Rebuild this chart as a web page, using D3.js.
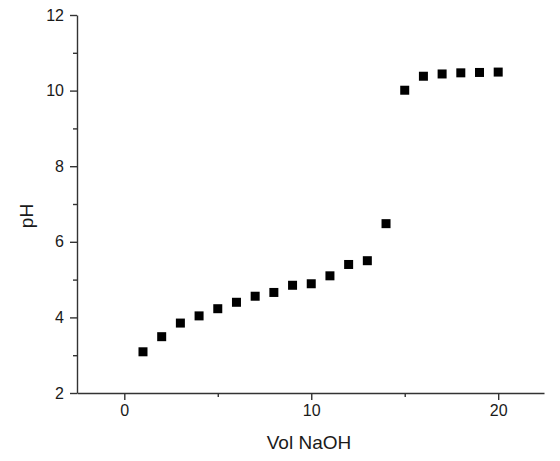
<!DOCTYPE html>
<html lang="en">
  <head>
    <meta charset="utf-8">
    <title>pH titration</title>
    <script src="https://d3js.org/d3.v7.js"></script>
    <style>
      body { margin: 0; background: #fff; overflow: hidden; }
      text { font-family: "Liberation Sans", Arial, sans-serif; fill: #1a1a1a; }
    </style>
  </head>
  <body>
  <script>

  // volume of NaOH added and measured pH
  var volume = [1, 2, 3, 4, 5, 6, 7, 8, 9, 10, 11, 12, 13, 14, 15, 16, 17, 18, 19, 20];
  var pH = [3.09, 3.49, 3.85, 4.04, 4.23, 4.40, 4.56, 4.66, 4.85, 4.89,
            5.10, 5.40, 5.50, 6.48, 10.01, 10.38, 10.44, 10.47, 10.48, 10.49];
  var xTicks = [0, 10, 20];
  var xMinor = [5, 15];
  var yTicks = [2, 4, 6, 8, 10, 12];
  var yMinor = [3, 5, 7, 9, 11];

  var data = volume.map((v, i) => ({vol: v, ph: pH[i]}));

  var w = 560;
  var h = 461;
  var margin = {top: 15, right: 16, bottom: 68, left: 77};
  var innerWidth = w - margin.left - margin.right;
  var innerHeight = h - margin.top - margin.bottom;

  var xScale = d3.scaleLinear()
      .domain([-2.53, 22.45])
      .range([0, innerWidth]);

  var yScale = d3.scaleLinear()
      .domain([2, 12])
      .range([innerHeight, 0]);

  var svg = d3.select("body")
    .append("svg")
      .style("display", "block")
      .attr("width", w)
      .attr("height", h);

  var g = svg.append("g")
      .attr("transform", `translate (${margin.left}, ${margin.top})`);

  // minor ticks first, so the main axes sit on top
  g.append("g")
      .attr("transform", `translate (0, ${innerHeight})`)
      .call(d3.axisBottom(xScale).tickValues(xMinor).tickSize(4).tickFormat(""))
      .call(a => a.select(".domain").remove());

  g.append("g")
      .call(d3.axisLeft(yScale).tickValues(yMinor).tickSize(4).tickFormat(""))
      .call(a => a.select(".domain").remove());

  var xAxis = g.append("g")
      .attr("class", "xAxis")
      .attr("transform", `translate (0, ${innerHeight})`)
      .call(d3.axisBottom(xScale).tickValues(xTicks).tickSizeInner(7).tickSizeOuter(0).tickPadding(5));

  var yAxis = g.append("g")
      .attr("class", "yAxis")
      .call(d3.axisLeft(yScale).tickValues(yTicks).tickSizeInner(7).tickSizeOuter(0).tickPadding(6));

  svg.selectAll(".xAxis text, .yAxis text")
      .style("font-size", "16px")
      .style("font-family", "'Liberation Sans', Arial, sans-serif")
      .attr("fill", "#1a1a1a");

  svg.selectAll("g path.domain, g .tick line")
      .attr("stroke", "#333")
      .attr("stroke-width", 1.4);

  // markers
  var size = 9;
  g.append("g")
      .attr("id", "plot")
    .selectAll("rect")
      .data(data)
    .enter().append("rect")
      .attr("x", d => xScale(d.vol) - size / 2)
      .attr("y", d => yScale(d.ph) - size / 2)
      .attr("width", size)
      .attr("height", size)
      .attr("fill", "#000");

  // axis titles
  svg.append("text")
      .attr("x", 309)
      .attr("y", 449)
      .attr("text-anchor", "middle")
      .style("font-size", "19px")
      .text("Vol NaOH");

  svg.append("text")
      .attr("transform", "translate (33, 216) rotate(-90)")
      .attr("text-anchor", "middle")
      .style("font-size", "19px")
      .text("pH");

  </script>
  </body>
</html>
